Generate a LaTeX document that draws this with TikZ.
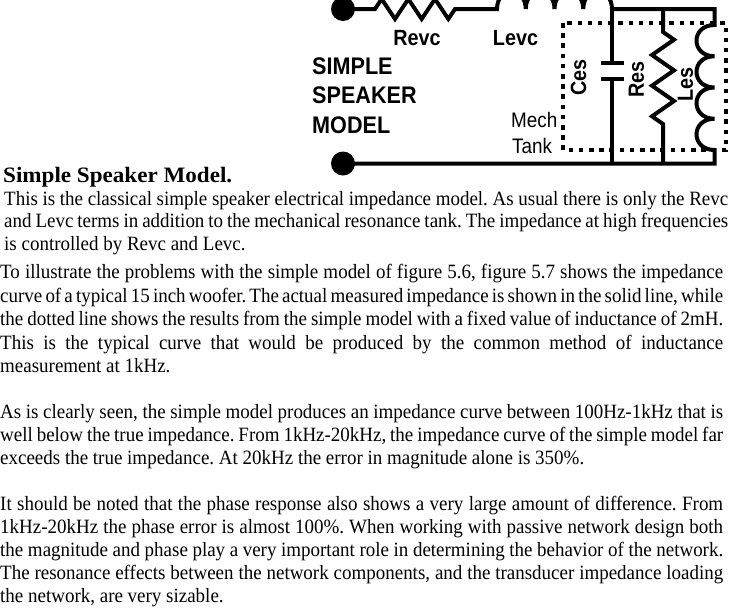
\documentclass[tikz,border=0pt]{standalone}
\usepackage{fontspec}
\setmainfont{Liberation Serif}
\newfontfamily\bodyfont[FakeStretch=0.935]{Liberation Serif}
\newfontfamily\lblfont[FakeStretch=0.9]{Liberation Sans}
\newfontfamily\headfont[FakeStretch=1.05]{Liberation Serif}
\newcommand\JL[2]{\makebox[#1pt][s]{\spaceskip=0.25em plus 1em minus 0.15em\relax #2}}
\begin{document}
\frenchspacing
\begin{tikzpicture}[x=1pt,y=-1pt,
  wire/.style={line width=4pt, line cap=butt, line join=miter},
  dot/.style={circle, fill=black, minimum size=24pt, inner sep=0pt},
  tankbox/.style={line width=4.5pt, dash pattern=on 4.5pt off 5.7pt},
  lbl/.style={font=\lblfont\bfseries\fontsize{22}{24}\selectfont, inner sep=0pt},
  big/.style={font=\lblfont\bfseries\fontsize{24}{26}\selectfont, inner sep=0pt, anchor=base west},
  small/.style={font=\lblfont\fontsize{21}{24}\selectfont, inner sep=0pt, anchor=base west},
  body/.style={font=\bodyfont\fontsize{20.3}{23}\selectfont, inner sep=0pt, anchor=base west},
  head/.style={font=\headfont\bfseries\fontsize{22}{25}\selectfont, inner sep=0pt, anchor=base west}]
\useasboundingbox (0,0) rectangle (750,614);
\clip (0,0) rectangle (750,614);
% terminals
\node[dot] (tin) at (343,9) {};
\node[dot] (bin) at (343,163.5) {};
% named points
\coordinate (rs) at (375,9);
\coordinate (ls) at (497,9);
\coordinate (le) at (612,9);
\coordinate (tr) at (714.5,9);
\coordinate (lest) at (714.5,25);
\coordinate (lesb) at (714.5,150);
\coordinate (br) at (714.5,163.5);
\coordinate (cb) at (612,163.5);
\coordinate (rt) at (663,9);
\coordinate (rb) at (663,163.5);
% series branch: Revc, Levc, then Les
\draw[wire] (tin.center) -- (rs) -- ++(6.67,-10) -- ++(13.33,20) -- ++(13.33,-20) -- ++(13.33,20)
  -- ++(13.33,-20) -- ++(13.33,20) -- ++(6.67,-10) -- (ls)
  .. controls (497,-13.7) and (525.75,-13.7) .. (525.75,9)
  .. controls (525.75,-13.7) and (554.5,-13.7) .. (554.5,9)
  .. controls (554.5,-13.7) and (583.25,-13.7) .. (583.25,9)
  .. controls (583.25,-13.7) and (612,-13.7) .. (le)
  -- (tr) -- (lest)
  .. controls (690.5,25) and (690.5,56.25) .. (714.5,56.25)
  .. controls (690.5,56.25) and (690.5,87.5) .. (714.5,87.5)
  .. controls (690.5,87.5) and (690.5,118.75) .. (714.5,118.75)
  .. controls (690.5,118.75) and (690.5,150) .. (lesb)
  -- (br) -- (bin.center);
% Ces
\draw[wire] (le) -- (612,63);
\draw[wire] (612,79) -- (cb);
\draw[wire] (600.5,63) -- (623.5,63);
\draw[wire] (600.5,79) -- (623.5,79);
% Res
\draw[wire] (rt) -- (663,32) -- ++(11,7.67) -- ++(-22,15.33) -- ++(22,15.33) -- ++(-22,15.33)
  -- ++(22,15.33) -- ++(-22,15.33) -- ++(11,7.67) -- (rb);
% mechanical tank outline
\draw[tankbox] (563,23) rectangle (726,150);
% circuit labels
\node[lbl, anchor=base] (revc) at (417,45) {Revc};
\node[lbl, anchor=base] (levc) at (515.5,45) {Levc};
\node[big] (s1) at (312,74) {SIMPLE};
\node[big] (s2) at (312,103.5) {SPEAKER};
\node[big] (s3) at (312,133) {MODEL};
\node[small] (mech) at (511,127) {Mech};
\node[small] (tank) at (512,153) {Tank};
\node[lbl, rotate=90] (ces) at (578.5,77.5) {Ces};
\node[lbl, rotate=90] (res) at (636.5,79.5) {Res};
\node[lbl, rotate=90] (les) at (685.5,84.5) {Les};
% text
\node[head] (h) at (3,182) {Simple Speaker Model.};
\node[body] (p1a) at (4,205) {\JL{724}{This is the classical simple speaker electrical impedance model. As usual there is only the Revc}};
\node[body] (p1b) at (4,227.5) {\JL{724}{and Levc terms in addition to the mechanical resonance tank. The impedance at high frequencies}};
\node[body] (p1c) at (4,250) {is controlled by Revc and Levc.};
\node[body] (p2a) at (0,278) {\JL{723}{To illustrate the problems with the simple model of figure 5.6, figure 5.7 shows the impedance}};
\node[body] (p2b) at (0,302) {\JL{723}{curve of a typical 15 inch woofer. The actual measured impedance is shown in the solid line, while}};
\node[body] (p2c) at (0,325.5) {\JL{723}{the dotted line shows the results from the simple model with a fixed value of inductance of 2mH.}};
\node[body] (p2d) at (0,349) {\JL{723}{This is the typical curve that would be produced by the common method of inductance}};
\node[body] (p2e) at (0,372.5) {measurement at 1kHz.};
\node[body] (p3a) at (0,418) {\JL{723}{As is clearly seen, the simple model produces an impedance curve between 100Hz-1kHz that is}};
\node[body] (p3b) at (0,441) {\JL{723}{well below the true impedance. From 1kHz-20kHz, the impedance curve of the simple model far}};
\node[body] (p3c) at (0,464) {exceeds the true impedance. At 20kHz the error in magnitude alone is 350\%.};
\node[body] (p4a) at (0,510) {\JL{723}{It should be noted that the phase response also shows a very large amount of difference. From}};
\node[body] (p4b) at (0,533) {\JL{723}{1kHz-20kHz the phase error is almost 100\%. When working with passive network design both}};
\node[body] (p4c) at (0,556) {\JL{723}{the magnitude and phase play a very important role in determining the behavior of the network.}};
\node[body] (p4d) at (0,579) {\JL{723}{The resonance effects between the network components, and the transducer impedance loading}};
\node[body] (p4e) at (0,602) {the network, are very sizable.};
\end{tikzpicture}
\end{document}
